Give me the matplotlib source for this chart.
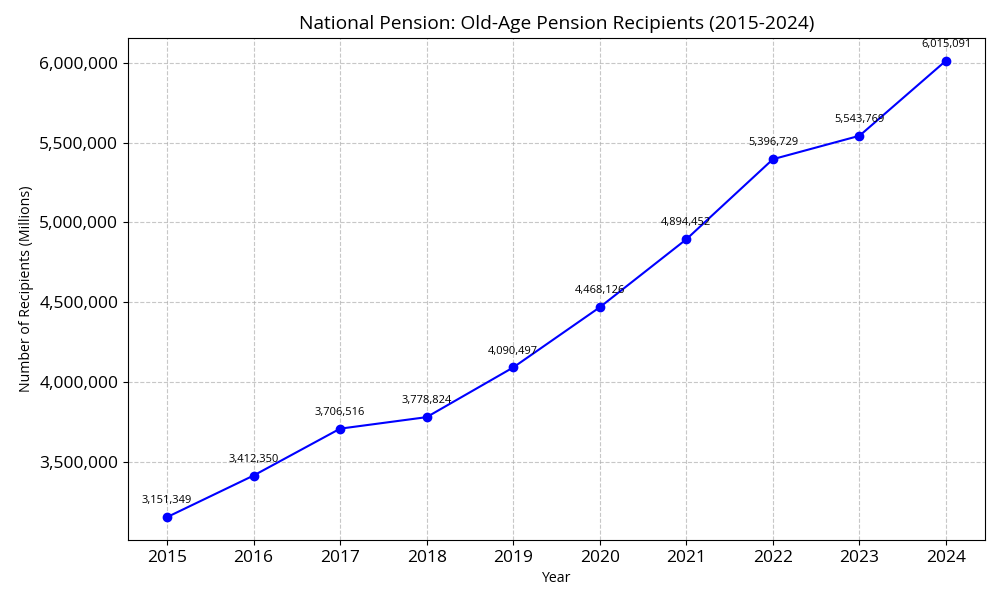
import matplotlib.pyplot as plt
import matplotlib.ticker as mticker

plt.rcParams['font.family'] = ['Open Sans', 'DejaVu Sans']

years = [2015, 2016, 2017, 2018, 2019, 2020, 2021, 2022, 2023, 2024]
recipients = [3151349, 3412350, 3706516, 3778824, 4090497,
              4468126, 4894452, 5396729, 5543769, 6015091]

fig, ax = plt.subplots(figsize=(10, 6), dpi=100)
fig.subplots_adjust(left=0.128, right=0.985, top=0.937, bottom=0.1)

ax.plot(years, recipients, marker='o', color='blue', linewidth=1.5, markersize=6)

for yr, val in zip(years, recipients):
    ax.annotate(f"{val:,}", (yr, val), textcoords='offset points',
                xytext=(0, 10), ha='center', fontsize=8)

ax.set_xticks(years)
ax.yaxis.set_major_formatter(mticker.FuncFormatter(lambda v, p: f"{int(v):,}"))
ax.tick_params(labelsize=12.5)
ax.grid(True, linestyle='--', alpha=0.7)

plt.title('National Pension: Old-Age Pension Recipients (2015-2024)', fontsize=13.8)
plt.xlabel('Year', fontsize=10.2)
plt.ylabel('Number of Recipients (Millions)', fontsize=10.2)
plt.savefig('out.png')
